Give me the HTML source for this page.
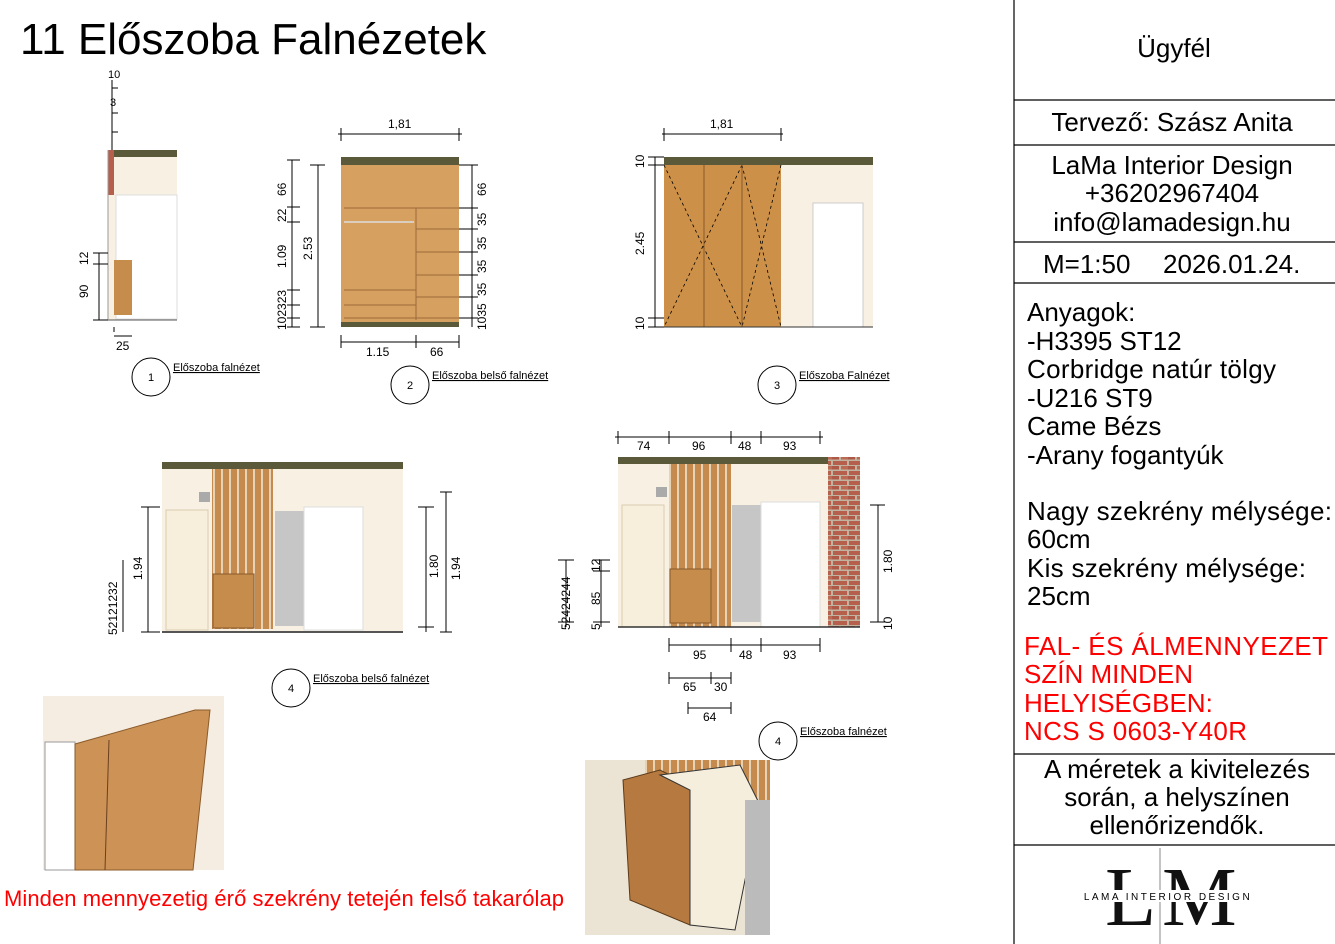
<!DOCTYPE html>
<html><head><meta charset="utf-8"><style>
body{margin:0;background:#fff;width:1335px;height:944px;overflow:hidden;font-family:"Liberation Sans",sans-serif}
svg{position:absolute;left:0;top:0}
.t{font-family:"Liberation Sans",sans-serif}
</style></head><body>
<svg width="1335" height="944" viewBox="0 0 1335 944">
<defs>
<pattern id="slat" width="8" height="10" patternUnits="userSpaceOnUse"><rect width="8" height="10" fill="#c48a4e"/><rect x="5" width="2" height="10" fill="#e8d2b4"/></pattern>
<pattern id="brick" width="16" height="10" patternUnits="userSpaceOnUse"><rect width="16" height="10" fill="#c0b4a0"/><rect x="1" y="1" width="14" height="4" fill="#b65f4c"/><rect x="-7" y="6" width="14" height="3.5" fill="#ae5848"/><rect x="9" y="6" width="14" height="3.5" fill="#bd6a55"/></pattern>
</defs>
<g class="t" fill="#000">
<text x="20" y="54" font-size="44">11 Előszoba Falnézetek</text>
</g>
<!-- right panel -->
<g stroke="#000" stroke-width="1.2">
<line x1="1014" y1="0" x2="1014" y2="944"/>
<line x1="1014" y1="100" x2="1335" y2="100"/>
<line x1="1014" y1="145" x2="1335" y2="145"/>
<line x1="1014" y1="242" x2="1335" y2="242"/>
<line x1="1014" y1="283" x2="1335" y2="283"/>
<line x1="1014" y1="754" x2="1335" y2="754"/>
<line x1="1014" y1="845" x2="1335" y2="845"/>
</g>
<g class="t" font-size="26" fill="#000">
<text x="1174" y="57" text-anchor="middle">Ügyfél</text>
<text x="1172" y="131" text-anchor="middle">Tervező: Szász Anita</text>
<text x="1172" y="174" text-anchor="middle">LaMa Interior Design</text>
<text x="1172" y="202" text-anchor="middle">+36202967404</text>
<text x="1172" y="231" text-anchor="middle">info@lamadesign.hu</text>
<text x="1043" y="273">M=1:50</text><text x="1163" y="273">2026.01.24.</text>
<text x="1027" y="321">Anyagok:</text>
<text x="1027" y="350">-H3395 ST12</text>
<text x="1027" y="378" textLength="249">Corbridge natúr tölgy</text>
<text x="1027" y="407">-U216 ST9</text>
<text x="1027" y="435">Came Bézs</text>
<text x="1027" y="464">-Arany fogantyúk</text>
<text x="1027" y="520" textLength="305">Nagy szekrény mélysége:</text>
<text x="1027" y="548">60cm</text>
<text x="1027" y="577" textLength="279">Kis szekrény mélysége:</text>
<text x="1027" y="605">25cm</text>
<g fill="#f00"><text x="1024" y="655" textLength="304">FAL- ÉS ÁLMENNYEZET</text>
<text x="1024" y="683">SZÍN MINDEN</text>
<text x="1024" y="712">HELYISÉGBEN:</text>
<text x="1024" y="740" textLength="223">NCS S 0603-Y40R</text></g>
<text x="1177" y="778" text-anchor="middle">A méretek a kivitelezés</text>
<text x="1177" y="806" text-anchor="middle">során, a helyszínen</text>
<text x="1177" y="834" text-anchor="middle">ellenőrizendők.</text>
</g>
<!-- logo -->
<line x1="1160" y1="848" x2="1160" y2="944" stroke="#888"/>
<text x="1105" y="925" font-family="Liberation Serif" font-size="84" fill="#111">L</text>
<text x="1162" y="925" font-family="Liberation Serif" font-size="84" fill="#111">M</text>
<rect x="1080" y="890" width="180" height="12" fill="#fff"/>
<text x="1168" y="900" text-anchor="middle" font-size="10" letter-spacing="2.5" class="t">LAMA INTERIOR DESIGN</text>

<!-- Drawing 1 -->
<rect x="108" y="150" width="69" height="170" fill="#f8f0e2"/>
<rect x="108" y="150" width="69" height="7" fill="#5a5a3a"/>
<rect x="108" y="150" width="6" height="45" fill="#b6604c"/>
<rect x="116" y="195" width="61" height="124" fill="#fff" stroke="#ddd"/>
<rect x="114" y="260" width="18" height="55" fill="#c68c4c"/>
<line x1="108" y1="320" x2="177" y2="320" stroke="#555"/>
<line x1="108" y1="150" x2="108" y2="320" stroke="#999"/>
<!-- Drawing 2 -->
<rect x="341" y="157" width="118" height="8" fill="#5a5a3a"/>
<rect x="341" y="165" width="118" height="157" fill="#d6a060"/>
<rect x="341" y="322" width="118" height="5" fill="#5a5a3a"/>
<g stroke="#9c6a3a" stroke-width="1"><line x1="344" y1="208" x2="459" y2="208"/><line x1="416" y1="208" x2="416" y2="320"/><line x1="416" y1="229" x2="459" y2="229"/><line x1="416" y1="252" x2="459" y2="252"/><line x1="416" y1="275" x2="459" y2="275"/><line x1="416" y1="297" x2="459" y2="297"/><line x1="344" y1="290" x2="416" y2="290"/><line x1="344" y1="305" x2="416" y2="305"/><line x1="344" y1="318" x2="459" y2="318"/></g>
<line x1="344" y1="222" x2="414" y2="222" stroke="#ddd" stroke-width="1.5"/>
<!-- Drawing 3 -->
<rect x="664" y="157" width="209" height="8" fill="#5a5a3a"/>
<rect x="664" y="165" width="117" height="162" fill="#cc9048"/>
<rect x="781" y="165" width="92" height="162" fill="#f8f0e2"/>
<rect x="813" y="203" width="50" height="124" fill="#fff" stroke="#ccc"/>
<g stroke="#000" stroke-dasharray="3,3" stroke-width="0.8"><line x1="664" y1="165" x2="742" y2="327"/><line x1="742" y1="165" x2="664" y2="327"/><line x1="742" y1="165" x2="781" y2="327"/><line x1="781" y1="165" x2="742" y2="327"/></g>
<g stroke="#8a5a2a"><line x1="704" y1="165" x2="704" y2="327"/><line x1="742" y1="165" x2="742" y2="327"/></g>
<line x1="664" y1="327" x2="873" y2="327" stroke="#333"/>
<!-- Drawing 4a -->
<rect x="162" y="462" width="241" height="170" fill="#f8f0e2"/>
<rect x="162" y="462" width="241" height="7" fill="#5a5a3a"/>
<rect x="212" y="469" width="61" height="160" fill="url(#slat)"/>
<rect x="166" y="510" width="42" height="120" fill="#f7efdc" stroke="#d8ccb0"/>
<rect x="275" y="511" width="29" height="115" fill="#c6c6c6"/>
<rect x="304" y="507" width="59" height="123" fill="#fff" stroke="#ddd"/>
<rect x="213" y="574" width="41" height="54" fill="#c68c4c" stroke="#8a5a2a"/>
<rect x="199" y="492" width="11" height="10" fill="#aaa"/>
<line x1="162" y1="632" x2="403" y2="632" stroke="#555" stroke-width="2"/>
<!-- Drawing 4b -->
<rect x="618" y="457" width="210" height="170" fill="#f8f0e2"/>
<rect x="618" y="457" width="210" height="7" fill="#5a5a3a"/>
<rect x="828" y="457" width="32" height="170" fill="url(#brick)"/>
<rect x="669" y="464" width="62" height="163" fill="url(#slat)"/>
<rect x="622" y="505" width="42" height="122" fill="#f7efdc" stroke="#d8ccb0"/>
<rect x="732" y="505" width="29" height="117" fill="#c6c6c6"/>
<rect x="761" y="502" width="59" height="125" fill="#fff" stroke="#ddd"/>
<rect x="670" y="569" width="41" height="54" fill="#c68c4c" stroke="#8a5a2a"/>
<rect x="656" y="487" width="11" height="10" fill="#aaa"/>
<line x1="618" y1="627" x2="860" y2="627" stroke="#333" stroke-width="1.5"/>
<!-- dims -->
<g stroke="#000" stroke-width="1" fill="none">
<path d="M338 134H462M341 128V141M459 128V141"/>
<path d="M662 134H783M664 128V141M781 128V141"/>
<path d="M341 342H459M416 335V348M341 335V348M459 335V348"/>
<path d="M292 160V327M318 165V327M287 160H300M287 207H300M287 222H300M287 290H300M287 305H300M287 318H300M287 327H300M310 165H325M310 327H325"/>
<path d="M472 165V327M459 165H478M459 208H478M459 229H478M459 252H478M459 275H478M459 297H478M459 318H478"/>
<path d="M655 157V327M648 157H664M648 165H664M648 318H664M648 327H664"/>
<path d="M99 253V320M93 253H108M93 264H108M93 320H108M114 327V332M114 336H132"/>
<path d="M112 80V150M112 88H118M112 113H118M112 132H118"/>
<path d="M148 507V632M141 507H160M141 632H160"/>
<path d="M123 560V632M426 507V632M418 507H434M418 627H434M446 492V632M440 492H452M440 632H452"/>
<path d="M615 437H823M618 431V444M669 431V444M731 431V444M761 431V444M820 431V444"/>
<path d="M878 505V622M870 505H885M870 622H885"/>
<path d="M566 560V627M601 560V627M558 560H574M593 560H610M593 571H610M593 622H610M558 622H574"/>
<path d="M669 645H820M669 638V652M731 638V652M761 638V652M820 638V652"/>
<path d="M669 678H731M669 672V684M711 672V684M731 672V684"/>
<path d="M688 708H731M688 702V714M731 702V714"/>
</g>
<g class="t" font-size="12" fill="#000">
<text x="388" y="128">1,81</text><text x="710" y="128">1,81</text>
<text x="366" y="356">1.15</text><text x="430" y="356">66</text>
<text x="116" y="350">25</text>
<text x="637" y="450">74</text><text x="692" y="450">96</text><text x="738" y="450">48</text><text x="783" y="450">93</text>
<text x="693" y="659">95</text><text x="739" y="659">48</text><text x="783" y="659">93</text>
<text x="683" y="691">65</text><text x="714" y="691">30</text><text x="703" y="721">64</text>
<text x="108" y="78" font-size="11">10</text><text x="110" y="106" font-size="11">3</text>
<g font-size="12">
<text transform="translate(286,196) rotate(-90)">66</text>
<text transform="translate(286,222) rotate(-90)">22</text>
<text transform="translate(286,268) rotate(-90)">1.09</text>
<text transform="translate(286,330) rotate(-90)">102323</text>
<text transform="translate(312,260) rotate(-90)">2.53</text>
<text transform="translate(486,196) rotate(-90)">66</text>
<text transform="translate(486,226) rotate(-90)">35</text>
<text transform="translate(486,250) rotate(-90)">35</text>
<text transform="translate(486,273) rotate(-90)">35</text>
<text transform="translate(486,296) rotate(-90)">35</text>
<text transform="translate(486,330) rotate(-90)">1035</text>
<text transform="translate(644,255) rotate(-90)">2.45</text>
<text transform="translate(644,168) rotate(-90)">10</text>
<text transform="translate(644,330) rotate(-90)">10</text>
<text transform="translate(88,298) rotate(-90)">90</text>
<text transform="translate(88,265) rotate(-90)">12</text>
<text transform="translate(142,580) rotate(-90)">1.94</text>
<text transform="translate(117,635) rotate(-90)">52121232</text>
<text transform="translate(438,578) rotate(-90)">1.80</text>
<text transform="translate(460,580) rotate(-90)">1.94</text>
<text transform="translate(570,630) rotate(-90)">52424244</text>
<text transform="translate(600,605) rotate(-90)">85</text>
<text transform="translate(600,572) rotate(-90)">12</text>
<text transform="translate(600,630) rotate(-90)">5</text>
<text transform="translate(892,573) rotate(-90)">1.80</text>
<text transform="translate(892,630) rotate(-90)">10</text>
</g>
</g>
<!-- labels -->
<g fill="#fff" stroke="#000" stroke-width="1">
<circle cx="151" cy="377" r="19"/><circle cx="410" cy="385" r="19"/><circle cx="777" cy="385" r="19"/>
<circle cx="291" cy="688" r="19"/><circle cx="778" cy="741" r="19"/>
</g>
<g class="t" font-size="11" fill="#000">
<text x="148" y="381">1</text><text x="407" y="389">2</text><text x="774" y="389">3</text><text x="288" y="692">4</text><text x="775" y="745">4</text>
<text x="173" y="371" text-decoration="underline">Előszoba falnézet</text>
<text x="432" y="379" text-decoration="underline">Előszoba belső falnézet</text>
<text x="799" y="379" text-decoration="underline">Előszoba Falnézet</text>
<text x="313" y="682" text-decoration="underline">Előszoba belső falnézet</text>
<text x="800" y="735" text-decoration="underline">Előszoba falnézet</text>
</g>
<!-- photo 1 -->
<rect x="43" y="696" width="181" height="174" fill="#f6ede2"/>
<rect x="45" y="742" width="30" height="128" fill="#fff" stroke="#999"/>
<polygon points="75,744 195,710 210,710 193,870 75,870" fill="#cc9256" stroke="#8a5a2a"/>
<line x1="109" y1="740" x2="105" y2="870" stroke="#6a4020"/>
<!-- photo 2 -->
<rect x="585" y="760" width="185" height="175" fill="#ebe3d3"/>
<rect x="645" y="760" width="125" height="60" fill="url(#slat)"/>
<polygon points="623,780 660,770 690,785 690,925 630,900" fill="#b67a40" stroke="#5a3a1a"/>
<polygon points="660,775 740,765 760,805 735,930 690,925 690,790" fill="#f5eedc" stroke="#333"/>
<rect x="745" y="800" width="25" height="135" fill="#bbb"/>
<text x="4" y="906" class="t" font-size="22" fill="#f00" textLength="560">Minden mennyezetig érő szekrény tetején felső takarólap</text>
</svg>
</body></html>
